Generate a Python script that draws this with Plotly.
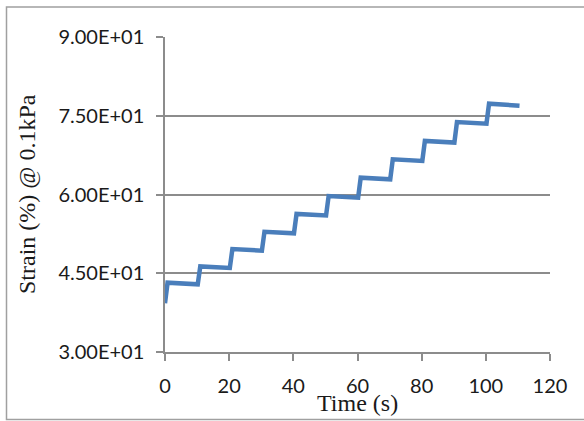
import plotly.graph_objects as go

# Data (time in s, strain in %)
time_s = [0, 0.8, 10.2, 11.0, 20.2, 21.0, 30.2, 31.0, 40.2, 41.0, 50.2, 51.0,
          60.2, 61.0, 70.2, 71.0, 80.2, 81.0, 90.2, 91.0, 100.2, 101.0, 110.5]
strain = [39.3, 43.2, 42.9, 46.3, 46.0, 49.6, 49.3, 52.9, 52.6, 56.3, 56.0, 59.7,
          59.4, 63.2, 62.9, 66.7, 66.4, 70.2, 69.9, 73.8, 73.5, 77.3, 76.9]

y_tickvals = [30, 45, 60, 75, 90]
y_ticktext = ["3.00E+01", "4.50E+01", "6.00E+01", "7.50E+01", "9.00E+01"]
x_tickvals = [0, 20, 40, 60, 80, 100, 120]

grid = "#8c8c8c"

fig = go.Figure()
fig.add_trace(go.Scatter(x=time_s, y=strain, mode="lines",
                         line=dict(color="#4a7ebb", width=4.5),
                         showlegend=False))

fig.update_layout(
    width=584, height=421,
    margin=dict(l=165, r=34, t=37, b=69),
    paper_bgcolor="white", plot_bgcolor="white",
    font=dict(family="Lato", size=20, color="#1a1a1a"),
    xaxis=dict(range=[0, 120], tickvals=x_tickvals, showgrid=False,
               showline=True, linecolor=grid, linewidth=1.5,
               ticks="outside", ticklen=7, tickcolor=grid, tickwidth=1.5,
               zeroline=False, ticklabelstandoff=8),
    yaxis=dict(range=[30, 90], tickvals=y_tickvals, ticktext=y_ticktext,
               showgrid=True, gridcolor=grid, gridwidth=1.5,
               showline=True, linecolor=grid, linewidth=1.5,
               ticks="outside", ticklen=7, tickcolor=grid, tickwidth=1.5,
               zeroline=False, ticklabelstandoff=8),
    shapes=[dict(type="rect", xref="paper", yref="paper",
                 x0=(6.5 - 165) / 385, x1=(600 - 165) / 385,
                 y0=(352 - 419.5) / 315, y1=(352 - 7) / 315,
                 line=dict(color="#a0a0a0", width=1.5), layer="below")],
    annotations=[
        dict(text="Time (s)", xref="paper", yref="paper",
             x=(357 - 165) / 385, y=(352 - 403) / 315,
             xanchor="center", yanchor="middle", showarrow=False,
             font=dict(family="Liberation Serif", size=24, color="#1a1a1a")),
        dict(text="Strain (%) @ 0.1kPa", xref="paper", yref="paper",
             x=(27 - 165) / 385, y=(352 - 194) / 315, textangle=-90,
             xanchor="center", yanchor="middle", showarrow=False,
             font=dict(family="Liberation Serif", size=24, color="#1a1a1a")),
    ],
)

fig.write_html("out.html", config={"displayModeBar": False},
               post_script="document.body.style.margin='0';")
